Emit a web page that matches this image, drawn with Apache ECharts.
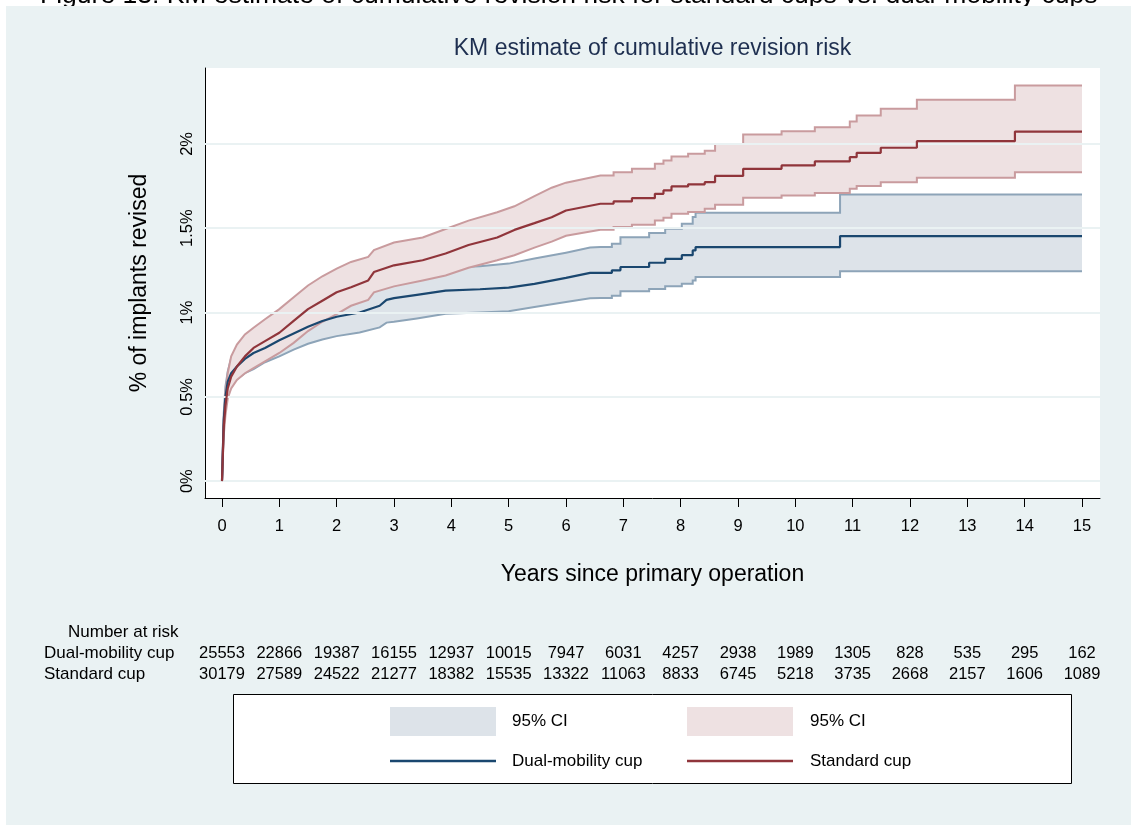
<!DOCTYPE html>
<html>
<head>
<meta charset="utf-8">
<script src="https://cdn.jsdelivr.net/npm/echarts@6/dist/echarts.min.js"></script>
<style>html,body{margin:0;padding:0;background:#fff;}#chart{width:1131px;height:825px;}</style>
</head>
<body>
<div id="chart"></div>
<script>
// ---------------- DATA ----------------
var xTicks = [0,1,2,3,4,5,6,7,8,9,10,11,12,13,14,15];
var yTicks = [0,0.5,1,1.5,2];

// Standard cup (times include repeated entries where the curve steps)
var stdTimes = [0,0.03,0.06,0.1,0.16,0.26,0.4,0.55,0.75,1,1.25,1.5,1.75,2,2.25,2.55,2.65,3,3.5,3.9,4.3,4.8,5.1,5.45,5.75,6,6.6,
  6.83,6.83,7.15,7.15,7.55,7.55,7.7,7.7,7.84,7.84,8.13,8.13,8.42,8.42,8.6,8.6,9.09,9.09,9.76,9.76,10.34,10.34,10.95,10.95,11.07,11.07,11.49,11.49,12.12,12.12,13.83,13.83,15];
var stdEst = [0,0.32,0.45,0.55,0.62,0.68,0.74,0.79,0.83,0.88,0.95,1.02,1.07,1.12,1.15,1.19,1.24,1.28,1.31,1.35,1.40,1.445,1.49,1.53,1.565,1.605,1.645,
  1.645,1.659,1.659,1.678,1.678,1.704,1.704,1.724,1.724,1.748,1.748,1.76,1.76,1.773,1.773,1.81,1.81,1.852,1.852,1.872,1.872,1.896,1.896,1.921,1.921,1.947,1.947,1.977,1.977,2.016,2.016,2.073,2.073];
var stdUpper = [0,0.36,0.52,0.64,0.74,0.81,0.87,0.91,0.96,1.02,1.09,1.16,1.215,1.26,1.30,1.33,1.37,1.415,1.445,1.495,1.545,1.595,1.63,1.69,1.74,1.77,1.813,
  1.813,1.832,1.832,1.852,1.852,1.882,1.882,1.902,1.902,1.925,1.925,1.941,1.941,1.96,1.96,2.0,2.0,2.056,2.056,2.075,2.075,2.099,2.099,2.133,2.133,2.168,2.168,2.208,2.208,2.261,2.261,2.346,2.346];
var stdLower = [0,0.27,0.39,0.49,0.55,0.60,0.64,0.67,0.71,0.76,0.82,0.89,0.945,0.99,1.04,1.075,1.12,1.155,1.19,1.22,1.265,1.31,1.34,1.385,1.42,1.455,1.491,
  1.491,1.507,1.507,1.521,1.521,1.546,1.546,1.562,1.562,1.586,1.586,1.596,1.596,1.616,1.616,1.639,1.639,1.68,1.68,1.694,1.694,1.708,1.708,1.734,1.734,1.75,1.75,1.773,1.773,1.799,1.799,1.832,1.832];

// Dual-mobility cup
var dmTimes = [0,0.03,0.06,0.1,0.16,0.26,0.4,0.55,0.75,1,1.25,1.5,1.75,2,2.4,2.75,2.87,3,3.4,3.9,4.5,5,5.45,6,6.42,6.6,
  6.8,6.8,6.95,6.95,7.45,7.45,7.73,7.73,8.02,8.02,8.21,8.21,8.26,8.26,10.78,10.78,15];
var dmEst = [0,0.36,0.50,0.59,0.64,0.68,0.725,0.76,0.79,0.835,0.875,0.915,0.95,0.975,1.0,1.04,1.075,1.085,1.105,1.13,1.138,1.148,1.17,1.205,1.235,1.235,
  1.235,1.25,1.25,1.27,1.27,1.295,1.295,1.318,1.318,1.34,1.34,1.368,1.368,1.388,1.388,1.453,1.453];
var dmUpper = [0,0.40,0.56,0.65,0.73,0.79,0.83,0.86,0.89,0.935,0.98,1.02,1.06,1.09,1.12,1.165,1.20,1.21,1.235,1.265,1.275,1.29,1.32,1.355,1.385,1.388,
  1.388,1.408,1.408,1.447,1.447,1.471,1.471,1.497,1.497,1.526,1.526,1.566,1.566,1.592,1.592,1.70,1.70];
var dmLower = [0,0.32,0.45,0.53,0.57,0.605,0.64,0.665,0.705,0.74,0.78,0.815,0.84,0.86,0.882,0.912,0.94,0.945,0.965,0.993,1.0,1.008,1.033,1.062,1.085,1.086,
  1.086,1.10,1.10,1.126,1.126,1.139,1.139,1.155,1.155,1.171,1.171,1.19,1.19,1.21,1.21,1.244,1.244];

// Number at risk
var riskYears = [0,1,2,3,4,5,6,7,8,9,10,11,12,13,14,15];
var dmRisk = [25553,22866,19387,16155,12937,10015,7947,6031,4257,2938,1989,1305,828,535,295,162];
var stdRisk = [30179,27589,24522,21277,18382,15535,13322,11063,8833,6745,5218,3735,2668,2157,1606,1089];

// ---------------- STYLE ----------------
var FONT = 'Liberation Sans, Arial, Helvetica, sans-serif';
var NAVY = '#1A476F', MAROON = '#90353B';
var NAVY_FILL = '#DDE3E9', NAVY_EDGE = '#8DA4B8';
var MAROON_FILL = '#EEE1E2', MAROON_EDGE = '#C99B9E';
var PANEL = '#EAF2F3';

function pairs(t, v){ var out=[]; for(var i=0;i<t.length;i++) out.push([t[i], v[i]]); return out; }

function bandSeries(name, t, lo, hi, fill, edge, z){
  return {
    type:'custom', name:name, z:z, silent:true, clip:true,
    data:[[0,0]],
    renderItem:function(params, api){
      var up=[], dn=[];
      for(var i=0;i<t.length;i++){ up.push(api.coord([t[i], hi[i]])); dn.push(api.coord([t[i], lo[i]])); }
      var poly = up.concat(dn.slice().reverse());
      return {type:'group', children:[
        {type:'polygon', shape:{points:poly}, style:{fill:fill, stroke:null}},
        {type:'polyline', shape:{points:up}, style:{fill:null, stroke:edge, lineWidth:2}},
        {type:'polyline', shape:{points:dn}, style:{fill:null, stroke:edge, lineWidth:2}}
      ]};
    }
  };
}

var chart = echarts.init(document.getElementById('chart'), null, {renderer:'canvas'});

var option = {
  backgroundColor:'#ffffff',
  animation:false,
  textStyle:{fontFamily:FONT},
  title:{
    text:'KM estimate of cumulative revision risk',
    left:652.5, top:37, textAlign:'center', padding:0,
    textStyle:{fontFamily:FONT, fontSize:23, fontWeight:'normal', color:'#1E2F50'}
  },
  grid:{left:205, top:68, width:895, height:430, show:true, backgroundColor:'#ffffff', borderWidth:0},
  xAxis:{
    type:'value', min:-0.2965, max:15.314,
    name:'Years since primary operation', nameLocation:'middle', nameGap:65,
    nameTextStyle:{fontFamily:FONT, fontSize:23, color:'#000'},
    axisLine:{show:true, onZero:false, lineStyle:{color:'#000', width:1}},
    axisTick:{show:true, customValues:xTicks, length:9, lineStyle:{color:'#000', width:1}},
    axisLabel:{show:true, customValues:xTicks, margin:20, fontFamily:FONT, fontSize:16.5, color:'#000'},
    splitLine:{show:false}
  },
  yAxis:{
    type:'value', min:-0.1, max:2.45,
    name:'% of implants revised', nameLocation:'middle', nameGap:54, nameRotate:90,
    nameTextStyle:{fontFamily:FONT, fontSize:23, color:'#000'},
    axisLine:{show:true, onZero:false, lineStyle:{color:'#000', width:1}},
    axisTick:{show:false},
    axisLabel:{show:true, customValues:yTicks, rotate:90, margin:9, fontFamily:FONT, fontSize:16.5, color:'#000',
      formatter:function(v){ return v + '%'; }},
    splitLine:{show:false}
  },
  series:[
    {type:'line', name:'grid', z:1, silent:true, data:[], symbol:'none',
      markLine:{silent:true, symbol:['none','none'], label:{show:false}, animation:false,
        lineStyle:{color:PANEL, width:2, type:'solid'},
        data: yTicks.map(function(v){ return {yAxis:v}; })}},
    bandSeries('Dual-mobility 95% CI', dmTimes, dmLower, dmUpper, NAVY_FILL, NAVY_EDGE, 2),
    bandSeries('Standard 95% CI', stdTimes, stdLower, stdUpper, MAROON_FILL, MAROON_EDGE, 3),
    {type:'line', name:'Dual-mobility cup', z:4, data:pairs(dmTimes, dmEst), symbol:'none', silent:true,
      lineStyle:{color:NAVY, width:2.2}},
    {type:'line', name:'Standard cup', z:5, data:pairs(stdTimes, stdEst), symbol:'none', silent:true,
      lineStyle:{color:MAROON, width:2.2}}
  ]
};
chart.setOption(option);

// ---------- Graphic: panel, caption, number-at-risk table, legend ----------
var g = [];
g.push({type:'text', z:-3, left:40, top:-18, style:{text:'Figure 13: KM estimate of cumulative revision risk for standard cups vs. dual-mobility cups',
  font:'26.5px ' + FONT, fill:'#000'}});
g.push({type:'rect', z:-2, shape:{x:6, y:6, width:1125, height:819}, style:{fill:PANEL}});

var txt = function(x, y, s, align, size){
  return {type:'text', z:10, x:x, y:y, style:{text:s, font:(size||17) + 'px ' + FONT, fill:'#000', align:align||'left', verticalAlign:'middle'}};
};
g.push(txt(68, 632, 'Number at risk'));
g.push(txt(44, 653, 'Dual-mobility cup'));
g.push(txt(44, 674, 'Standard cup'));
for (var i=0;i<riskYears.length;i++){
  var px = chart.convertToPixel({xAxisIndex:0}, riskYears[i]);
  g.push(txt(px, 653, String(dmRisk[i]), 'center', 16.5));
  g.push(txt(px, 674, String(stdRisk[i]), 'center', 16.5));
}

// legend box
g.push({type:'rect', z:10, shape:{x:233.5, y:694.5, width:838, height:89}, style:{fill:'#fff', stroke:'#000', lineWidth:1}});
g.push({type:'rect', z:11, shape:{x:390, y:707, width:106, height:29}, style:{fill:NAVY_FILL}});
g.push({type:'rect', z:11, shape:{x:687, y:707, width:106, height:29}, style:{fill:MAROON_FILL}});
g.push({type:'line', z:11, shape:{x1:390, y1:761, x2:496, y2:761}, style:{stroke:NAVY, lineWidth:2.5}});
g.push({type:'line', z:11, shape:{x1:687, y1:761, x2:793, y2:761}, style:{stroke:MAROON, lineWidth:2.5}});
g.push(txt(512, 721, '95% CI'));
g.push(txt(810, 721, '95% CI'));
g.push(txt(512, 761, 'Dual-mobility cup'));
g.push(txt(810, 761, 'Standard cup'));

chart.setOption({graphic:{elements:g}});
</script>
</body>
</html>
